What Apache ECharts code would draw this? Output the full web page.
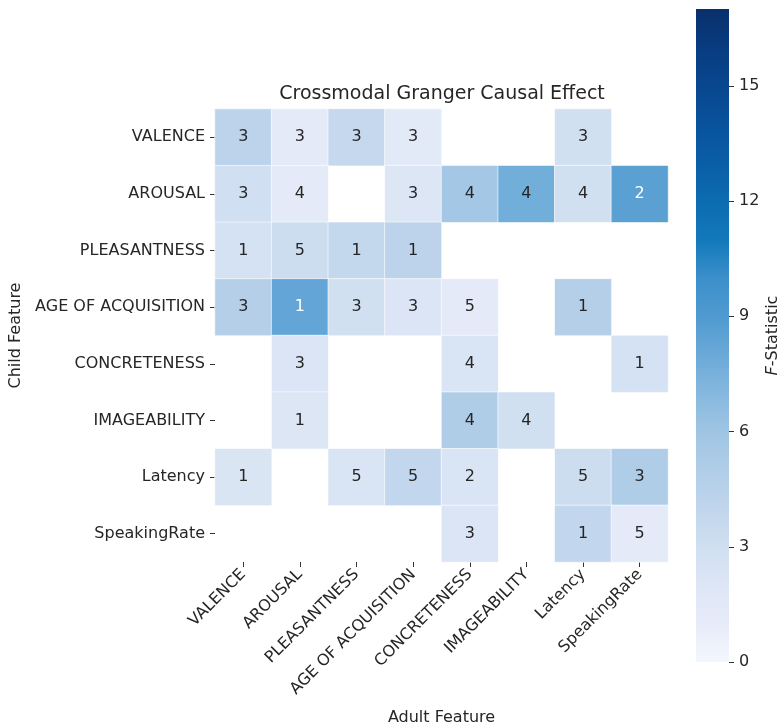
<!DOCTYPE html>
<html>
<head>
<meta charset="utf-8">
<title>Crossmodal Granger Causal Effect</title>
<script src="https://cdn.jsdelivr.net/npm/echarts@6/dist/echarts.min.js"></script>
<style>
  html, body { margin: 0; padding: 0; background: #ffffff; }
  #chart { width: 783px; height: 726px; }
</style>
</head>
<body>
<div id="chart"></div>
<script>
// Feature names (columns = adult, rows = child)
const adultFeatures = ['VALENCE', 'AROUSAL', 'PLEASANTNESS', 'AGE OF ACQUISITION',
  'CONCRETENESS', 'IMAGEABILITY', 'Latency', 'SpeakingRate'];
const childFeatures = ['VALENCE', 'AROUSAL', 'PLEASANTNESS', 'AGE OF ACQUISITION',
  'CONCRETENESS', 'IMAGEABILITY', 'Latency', 'SpeakingRate'];

// F-statistic per (child row, adult column); null = no significant effect
const fStatistic = [
  [4.2, 1.3, 3.7, 1.5, null, null, 2.9, null],
  [3.0, 1.3, null, 2.0, 5.7, 7.7, 2.9, 8.6],
  [2.6, 3.2, 3.8, 4.2, null, null, null, null],
  [4.7, 8.3, 2.9, 2.1, 1.2, null, 4.7, null],
  [null, 2.1, null, null, 2.3, null, null, 2.6],
  [null, 2.0, null, null, 5.0, 2.9, null, null],
  [2.2, null, 2.3, 3.9, 2.3, null, 3.2, 5.0],
  [null, null, null, null, 2.1, null, 3.9, 1.3]
];

// Lag order annotated in each cell
const lagOrder = [
  [3, 3, 3, 3, null, null, 3, null],
  [3, 4, null, 3, 4, 4, 4, 2],
  [1, 5, 1, 1, null, null, null, null],
  [3, 1, 3, 3, 5, null, 1, null],
  [null, 3, null, null, 4, null, null, 1],
  [null, 1, null, null, 4, 4, null, null],
  [1, null, 5, 5, 2, null, 5, 3],
  [null, null, null, null, 3, null, 1, 5]
];

// Colour scale range and colour bar tick labels
const fMin = 0;
const fMax = 17;
const colorbarTicks = [0, 3, 6, 9, 12, 15];

const scaleColors = [
  '#f3f7fd', '#e7ebf9', '#dde6f5', '#d0dff1', '#c0d5ec', '#b0cde8',
  '#9fc5e3', '#86b8de', '#6aa9d8', '#4f9ad0', '#3b8fcb', '#1279ba',
  '#0c6cb0', '#0a5ea6', '#08529c', '#08478f', '#083c80', '#08306b'
];

const FONT = 'DejaVu Sans';
const TEXT = '#262626';

const cells = [];
fStatistic.forEach((row, r) => {
  row.forEach((v, c) => {
    if (v === null) return;
    cells.push({
      value: [c, r, v, lagOrder[r][c]],
      label: { color: v > 8 ? '#ffffff' : TEXT }
    });
  });
});

// Vertical gradient for the colour bar (bottom = fMin, top = fMax)
const barGradient = new echarts.graphic.LinearGradient(0, 1, 0, 0,
  scaleColors.map((c, i) => ({ offset: i / (scaleColors.length - 1), color: c })));

const chart = echarts.init(document.getElementById('chart'), null, { renderer: 'canvas' });

chart.setOption({
  backgroundColor: '#ffffff',
  animation: false,
  textStyle: { fontFamily: FONT },
  title: {
    text: 'Crossmodal Granger Causal Effect',
    left: 437,
    top: 80,
    textAlign: 'center',
    textStyle: { fontFamily: FONT, fontSize: 19, fontWeight: 'normal', color: TEXT }
  },
  grid: [
    { left: 215, top: 109, width: 453, height: 453, outerBoundsMode: 'none', containLabel: false },
    { left: 696, top: 9, width: 33, height: 653, outerBoundsMode: 'none', containLabel: false }
  ],
  xAxis: [
    {
      type: 'category',
      gridIndex: 0,
      data: adultFeatures,
      name: 'Adult Feature',
      nameLocation: 'middle',
      nameGap: 148,
      nameTextStyle: { fontFamily: FONT, fontSize: 16, color: TEXT },
      axisLine: { show: false },
      axisTick: { show: true, alignWithLabel: true, length: 5, lineStyle: { color: '#333' } },
      axisLabel: { rotate: 45, margin: 10, fontFamily: FONT, fontSize: 16, color: TEXT, interval: 0 },
      splitLine: { show: false }
    },
    { type: 'category', gridIndex: 1, show: false, data: ['F'] }
  ],
  yAxis: [
    {
      type: 'category',
      gridIndex: 0,
      data: childFeatures,
      inverse: true,
      name: 'Child Feature',
      nameLocation: 'middle',
      nameGap: 182,
      nameTextStyle: { fontFamily: FONT, fontSize: 16, color: TEXT },
      axisLine: { show: false },
      axisTick: { show: true, alignWithLabel: true, length: 5, lineStyle: { color: '#333' } },
      axisLabel: { margin: 10, fontFamily: FONT, fontSize: 16, color: TEXT, interval: 0 },
      splitLine: { show: false }
    },
    {
      type: 'value',
      gridIndex: 1,
      position: 'right',
      min: fMin,
      max: fMax,
      name: '{it|F}-Statistic',
      nameLocation: 'middle',
      nameRotate: 90,
      nameGap: 36,
      nameTextStyle: {
        fontFamily: FONT, fontSize: 16, color: TEXT,
        rich: { it: { fontFamily: FONT, fontSize: 16, fontStyle: 'italic', color: TEXT } }
      },
      axisLine: { show: false },
      axisTick: { show: true, length: 5, customValues: colorbarTicks, lineStyle: { color: '#333' } },
      axisLabel: { margin: 10, fontFamily: FONT, fontSize: 16, color: TEXT, customValues: colorbarTicks },
      splitLine: { show: false }
    }
  ],
  visualMap: {
    type: 'continuous',
    min: fMin,
    max: fMax,
    dimension: 2,
    seriesIndex: 0,
    show: false,
    inRange: { color: scaleColors }
  },
  series: [
    {
      type: 'heatmap',
      xAxisIndex: 0,
      yAxisIndex: 0,
      data: cells,
      itemStyle: { borderColor: '#ffffff', borderWidth: 0.6 },
      label: {
        show: true,
        fontFamily: FONT,
        fontSize: 16,
        formatter: p => String(p.value[3])
      },
      emphasis: { disabled: true }
    },
    {
      // colour bar spanning the whole F-statistic range
      type: 'bar',
      xAxisIndex: 1,
      yAxisIndex: 1,
      data: [fMax],
      barWidth: '100%',
      silent: true,
      itemStyle: { color: barGradient }
    }
  ]
});
</script>
</body>
</html>
